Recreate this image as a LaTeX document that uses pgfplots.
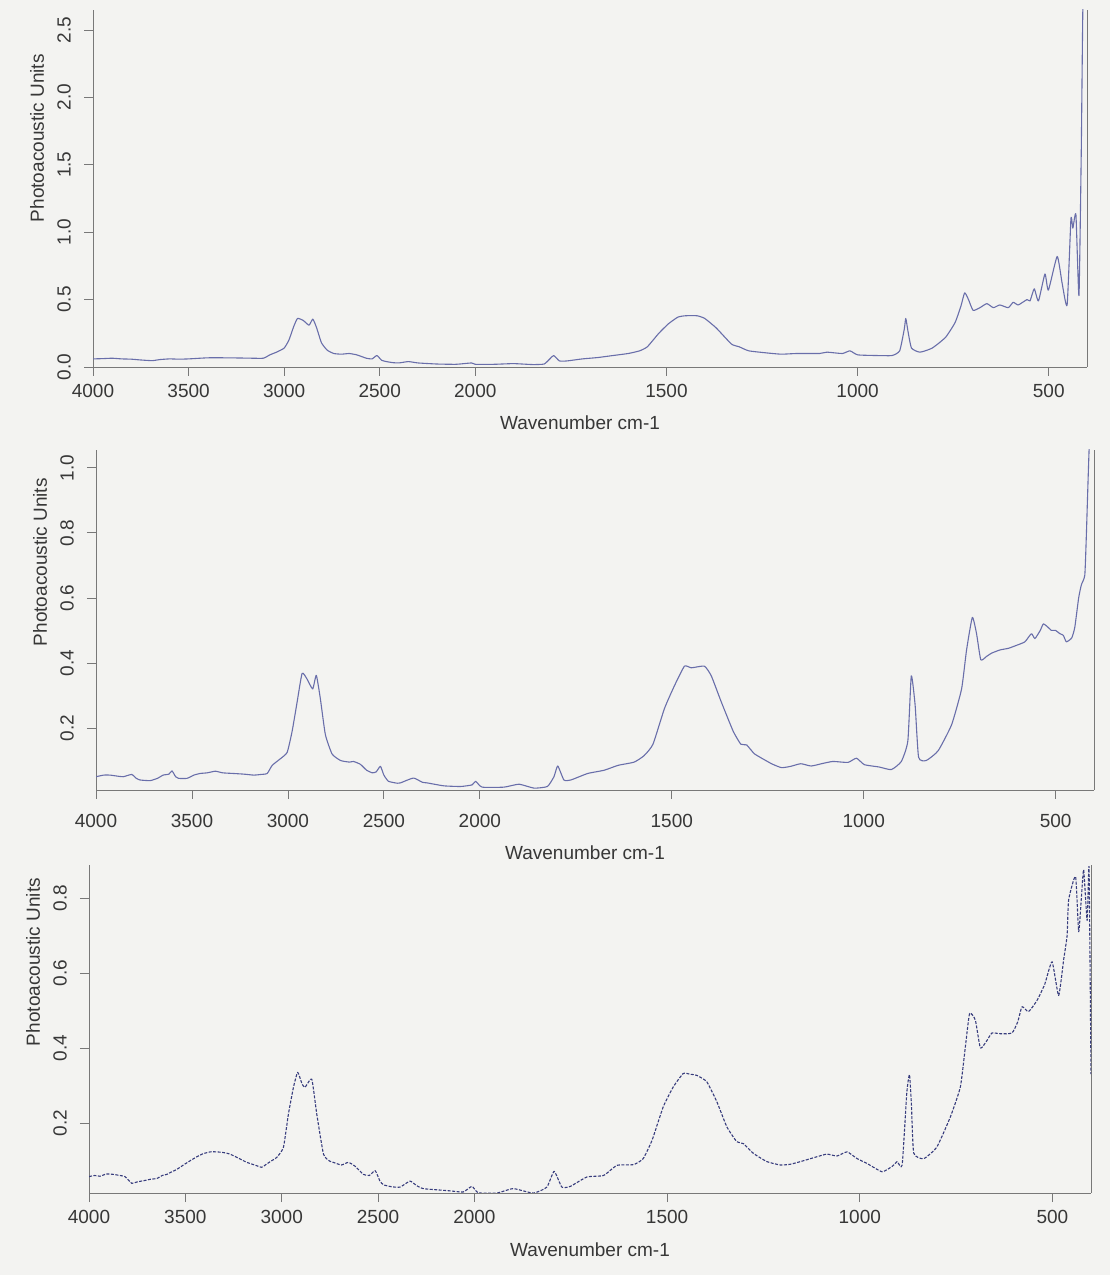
\documentclass[border=0pt]{standalone}
\usepackage{fontspec}
\setmainfont{Liberation Sans}
\usepackage{pgfplots}
\pgfplotsset{compat=1.18}

\definecolor{paper}{RGB}{243,243,241}
\definecolor{ink}{RGB}{55,55,55}
\definecolor{axisgrey}{RGB}{120,120,120}
\definecolor{spec}{RGB}{105,110,170}
\definecolor{specdark}{RGB}{55,60,125}

% wavenumber -> position: 4000..2000 drawn at half the scale of 2000..400
\newcommand{\wnx}{\thisrow{wn}>=2000 ? (4000-\thisrow{wn})/2 : 3000-\thisrow{wn}}

\pgfplotsset{
  spectrum/.style={
    scale only axis,
    xmin=0, xmax=2600,
    axis x line=bottom, axis y line=box,
    axis line style={-, axisgrey, line width=0.9bp},
    xtick={0,250,500,750,1000,1500,2000,2500},
    xticklabels={4000,3500,3000,2500,2000,1500,1000,500},
    tick align=outside, major tick length=9bp,
    ytick pos=left, xtick pos=bottom,
    tick style={axisgrey, line width=0.8bp},
    font=\fontsize{19bp}{22bp}\selectfont,
    every tick label/.append style={text=ink, inner sep=0pt},
    yticklabel style={rotate=90, anchor=south},
    xticklabel style={anchor=north},
    xticklabel shift=8bp, yticklabel shift=13bp,
    xlabel={Wavenumber cm-1}, ylabel={Photoacoustic Units},
  },
}

\begin{document}
\begin{tikzpicture}
\fill[paper] (0bp,0bp) rectangle (1110bp,1275bp);
\useasboundingbox (0bp,0bp) rectangle (1110bp,1275bp);

% ---------- top panel ----------
\begin{axis}[spectrum,
  at={(93bp,908bp)}, anchor=south west,
  width=994bp, height=357bp,
  ymin=0, ymax=2.648,
  ytick={0,0.5,1,1.5,2,2.5},
  yticklabels={0.0,0.5,1.0,1.5,2.0,2.5},
  every axis y label/.style={at={(axis description cs:-0.0563,0.641)}, rotate=90, anchor=center, text=ink},
  every axis x label/.style={at={(axis description cs:0.49,-0.157)}, anchor=center, text=ink},
]
\addplot[spec, line width=1.1bp, line join=round, smooth, tension=0.3] table[x expr=\wnx, y=val] {
wn val
4000 0.060
3950 0.062
3900 0.065
3850 0.060
3800 0.058
3750 0.052
3690 0.047
3650 0.055
3600 0.060
3550 0.058
3500 0.060
3400 0.068
3300 0.068
3200 0.066
3110 0.065
3075 0.09
3040 0.11
3000 0.14
2975 0.20
2950 0.30
2930 0.36
2900 0.345
2870 0.31
2850 0.355
2830 0.29
2805 0.18
2775 0.125
2740 0.10
2700 0.095
2660 0.10
2620 0.09
2570 0.065
2540 0.06
2515 0.085
2490 0.05
2465 0.04
2430 0.032
2400 0.03
2350 0.04
2300 0.03
2200 0.022
2100 0.02
2020 0.03
2000 0.02
1950 0.02
1900 0.025
1850 0.018
1820 0.022
1805 0.06
1795 0.085
1780 0.045
1760 0.045
1720 0.06
1680 0.07
1640 0.085
1600 0.10
1570 0.12
1550 0.15
1520 0.25
1495 0.32
1470 0.37
1450 0.38
1420 0.38
1400 0.36
1370 0.29
1330 0.17
1310 0.15
1285 0.12
1240 0.105
1200 0.095
1160 0.10
1100 0.10
1080 0.11
1040 0.10
1020 0.12
1000 0.09
950 0.085
910 0.085
890 0.12
878 0.28
874 0.36
868 0.26
859 0.14
837 0.11
805 0.14
770 0.22
745 0.33
730 0.45
720 0.55
710 0.50
698 0.42
680 0.44
662 0.47
645 0.44
628 0.46
606 0.44
593 0.48
580 0.46
557 0.50
549 0.49
538 0.58
527 0.49
510 0.69
501 0.57
478 0.82
465 0.62
452 0.46
442 1.10
437 1.03
429 1.13
421 0.53
415 1.60
410 2.80
400 2.80
};
\end{axis}

% ---------- middle panel ----------
\begin{axis}[spectrum,
  at={(96bp,485bp)}, anchor=south west,
  width=998bp, height=340bp,
  ymin=0.0092, ymax=1.055,
  xticklabel shift=15bp,
  ytick={0.2,0.4,0.6,0.8,1.0},
  yticklabels={0.2,0.4,0.6,0.8,1.0},
  every axis y label/.style={at={(axis description cs:-0.0561,0.67)}, rotate=90, anchor=center, text=ink},
  every axis x label/.style={at={(axis description cs:0.49,-0.185)}, anchor=center, text=ink},
]
\addplot[spec, line width=1.1bp, line join=round, smooth, tension=0.3] table[x expr=\wnx, y=val] {
wn val
4000 0.050
3960 0.055
3927 0.055
3890 0.052
3858 0.050
3814 0.057
3790 0.045
3770 0.040
3718 0.038
3680 0.045
3650 0.055
3620 0.058
3604 0.068
3585 0.050
3570 0.045
3526 0.045
3490 0.055
3458 0.060
3420 0.062
3378 0.067
3340 0.062
3284 0.060
3230 0.058
3178 0.055
3140 0.057
3108 0.060
3082 0.085
3040 0.105
3004 0.125
2978 0.19
2952 0.28
2926 0.368
2900 0.35
2871 0.32
2852 0.362
2831 0.29
2805 0.18
2770 0.12
2726 0.10
2680 0.095
2658 0.097
2622 0.088
2590 0.07
2560 0.062
2540 0.065
2518 0.082
2500 0.055
2476 0.036
2430 0.03
2414 0.031
2346 0.046
2300 0.033
2274 0.031
2188 0.022
2100 0.02
2040 0.025
2022 0.036
1994 0.018
1937 0.018
1898 0.027
1859 0.015
1824 0.02
1807 0.05
1797 0.083
1781 0.04
1763 0.04
1719 0.06
1676 0.07
1640 0.085
1598 0.095
1572 0.115
1549 0.15
1519 0.26
1493 0.33
1467 0.39
1449 0.385
1415 0.39
1397 0.36
1371 0.28
1340 0.19
1320 0.15
1305 0.148
1284 0.12
1240 0.09
1214 0.078
1190 0.082
1164 0.09
1137 0.083
1110 0.09
1080 0.097
1041 0.094
1019 0.107
998 0.087
960 0.08
928 0.072
902 0.097
885 0.16
876 0.36
866 0.27
857 0.11
837 0.10
806 0.13
771 0.21
745 0.32
732 0.44
717 0.54
706 0.49
695 0.41
680 0.42
667 0.43
645 0.44
623 0.445
600 0.455
580 0.465
563 0.49
554 0.475
540 0.50
532 0.52
520 0.51
511 0.50
500 0.50
489 0.49
480 0.485
472 0.465
458 0.477
450 0.51
440 0.60
433 0.64
424 0.67
420 0.79
412 1.08
400 1.30
};
\end{axis}

% ---------- bottom panel ----------
\begin{axis}[spectrum,
  at={(89bp,82bp)}, anchor=south west,
  width=1002bp, height=328bp,
  ymin=0.0133, ymax=0.888,
  ytick={0.2,0.4,0.6,0.8},
  yticklabels={0.2,0.4,0.6,0.8},
  every axis y label/.style={at={(axis description cs:-0.0559,0.704)}, rotate=90, anchor=center, text=ink},
  every axis x label/.style={at={(axis description cs:0.5,-0.174)}, anchor=center, text=ink},
]
\addplot[specdark, line width=1.1bp, line join=round, smooth, tension=0.3, dash pattern=on 3bp off 1.5bp] table[x expr=\wnx, y=val] {
wn val
4000 0.057
3970 0.060
3943 0.058
3910 0.064
3874 0.063
3840 0.060
3813 0.057
3778 0.039
3750 0.043
3717 0.046
3680 0.050
3648 0.052
3620 0.060
3596 0.063
3570 0.070
3545 0.076
3510 0.088
3476 0.099
3440 0.110
3408 0.118
3370 0.123
3337 0.123
3300 0.121
3268 0.117
3220 0.105
3181 0.095
3140 0.088
3104 0.082
3077 0.091
3050 0.100
3026 0.108
2991 0.135
2965 0.224
2939 0.295
2917 0.335
2895 0.305
2879 0.295
2844 0.317
2818 0.224
2783 0.117
2750 0.098
2732 0.095
2690 0.088
2654 0.095
2620 0.085
2576 0.063
2545 0.060
2515 0.073
2490 0.045
2471 0.035
2430 0.030
2386 0.029
2334 0.045
2300 0.033
2266 0.025
2200 0.022
2126 0.019
2058 0.016
2013 0.031
1990 0.014
1942 0.013
1899 0.025
1847 0.013
1812 0.029
1793 0.071
1773 0.029
1751 0.031
1708 0.056
1665 0.060
1630 0.087
1587 0.089
1562 0.105
1539 0.154
1510 0.243
1484 0.296
1458 0.332
1440 0.330
1423 0.327
1397 0.310
1371 0.257
1345 0.190
1319 0.150
1302 0.145
1276 0.119
1241 0.097
1206 0.088
1180 0.090
1154 0.097
1111 0.110
1085 0.117
1059 0.112
1033 0.123
1007 0.105
981 0.092
942 0.070
915 0.085
903 0.097
890 0.088
878 0.280
871 0.329
866 0.250
860 0.120
834 0.105
800 0.136
765 0.216
739 0.296
726 0.403
715 0.492
700 0.474
687 0.400
670 0.420
657 0.440
635 0.438
605 0.440
590 0.470
579 0.510
562 0.497
540 0.527
520 0.570
501 0.630
484 0.540
471 0.635
462 0.700
458 0.795
440 0.857
432 0.710
425 0.800
419 0.875
410 0.740
405 0.880
400 0.330
};
\end{axis}
\end{tikzpicture}
\end{document}
